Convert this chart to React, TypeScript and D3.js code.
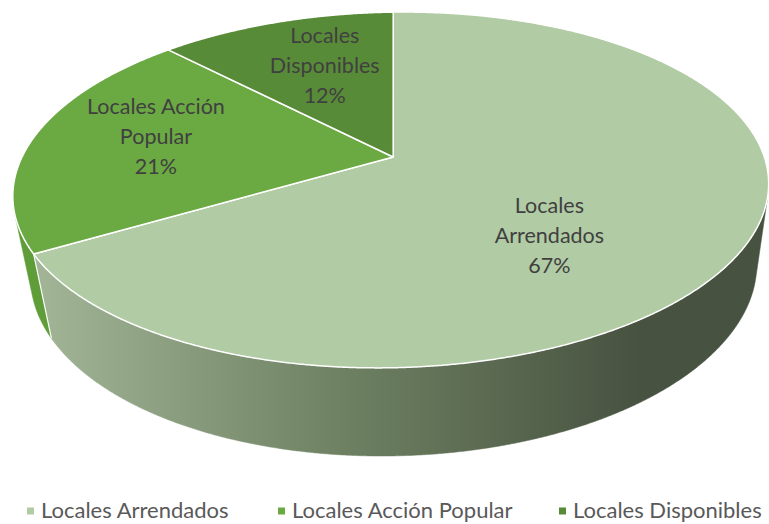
import React from "react";
import * as d3 from "d3";

const categories = ["Locales Arrendados", "Locales Acción Popular", "Locales Disponibles"];
const values = [67, 21, 12];
const labelNameLines = [["Locales", "Arrendados"], ["Locales Acción", "Popular"], ["Locales", "Disponibles"]];

const topColors = ["#b1cba4", "#6ba943", "#588b37"];
const sideColors = ["url(#sideGrad)", "#5e9d38", "#4a7a2e"];

const W = 769;
const H = 524;

// camera / projection parameters
const ALPHA = (33.4 * Math.PI) / 180;
const C = Math.cos(ALPHA);
const S = Math.sin(ALPHA);
const D = 4.505;
const FX = 1672;
const FY = 1406;
const PX = 462;
const PY = 157;
const OX = -0.1854;
const THICK = 0.3205;

function proj(phi: number, r: number, h: number): [number, number] {
  const x = r * Math.sin(phi) + OX;
  const z = -r * Math.cos(phi);
  const d = D - z * C - h * S;
  return [PX + (FX * x) / d, PY + (FY * (z * S - h * C)) / d];
}

function sideVisible(phi: number) {
  return -1 - OX * Math.sin(phi) - D * C * Math.cos(phi) > 0;
}

const PHI0 = (OX * C) / D;

export default function App() {
  const pie = d3
    .pie<number>()
    .sort(null)
    .value((d) => d)
    .startAngle(PHI0)
    .endAngle(PHI0 + 2 * Math.PI);
  const arcs = pie(values);
  const total = d3.sum(values);
  const pct = d3.format(".0%");
  const line = d3.line<[number, number]>();

  const step = Math.PI / 720;

  const sides: { d: string; fill: string }[] = [];
  const edges: [number, number][][] = [];
  arcs.forEach((a, i) => {
    const phis = d3.range(a.startAngle, a.endAngle, step).concat([a.endAngle]);
    let run: number[] = [];
    const flush = () => {
      if (run.length > 1) {
        const top = run.map((p) => proj(p, 1, 0));
        const bot = run.map((p) => proj(p, 1, -THICK)).reverse();
        sides.push({ d: line(top.concat(bot))! + "Z", fill: sideColors[i] });
      }
      run = [];
    };
    phis.forEach((p) => {
      if (sideVisible(p)) run.push(p);
      else flush();
    });
    flush();
    [a.startAngle].forEach((p) => {
      if (sideVisible(p)) edges.push([proj(p, 1, 0), proj(p, 1, -THICK)]);
    });
  });

  const tops = arcs.map((a, i) => {
    const phis = d3.range(a.startAngle, a.endAngle, step).concat([a.endAngle]);
    const pts = [proj(0, 0, 0) as [number, number]].concat(phis.map((p) => proj(p, 1, 0)));
    return { d: line(pts)! + "Z", fill: topColors[i] };
  });

  const labelR = [0.5, 0.62, 0.6];
  const labelDx = [-11, -13, 6];
  const labelDy = [35, -8, -6];
  const labels = arcs.map((a, i) => {
    const mid = (a.startAngle + a.endAngle) / 2;
    const [x, y] = proj(mid, labelR[i], 0);
    const lines = labelNameLines[i].concat([pct(values[i] / total)]);
    return { x: x + labelDx[i], y: y + labelDy[i], lines };
  });

  const legendX = [27, 278, 559];
  const legendY = 510.5;

  return (
    <svg width={W} height={H} style={{ position: "absolute", left: 0, top: 0, background: "#fff" }}>
      <defs>
        <linearGradient id="sideGrad" gradientUnits="userSpaceOnUse" x1={30} y1={0} x2={640} y2={0}>
          <stop offset="0" stopColor="#a3b698" />
          <stop offset="0.5" stopColor="#6f8263" />
          <stop offset="1" stopColor="#475240" />
        </linearGradient>
      </defs>
      {sides.map((s, i) => (
        <path key={"s" + i} d={s.d} fill={s.fill} stroke={s.fill} strokeWidth={0.5} />
      ))}
      {edges.map((e, i) => (
        <path key={"e" + i} d={line(e)!} stroke="#ffffff" strokeWidth={1.2} />
      ))}
      {tops.map((t, i) => (
        <path key={"t" + i} d={t.d} fill={t.fill} stroke="#ffffff" strokeWidth={1.5} strokeLinejoin="round" />
      ))}
      {labels.map((l, i) => (
        <text
          key={"l" + i}
          x={l.x}
          y={l.y}
          textAnchor="middle"
          fontFamily="Lato, 'Open Sans', sans-serif"
          fontSize={21.5}
          fill="#404040"
        >
          {l.lines.map((t, j) => (
            <tspan key={j} x={l.x} y={l.y + (j - 1) * 30} dy="0.35em">
              {t}
            </tspan>
          ))}
        </text>
      ))}
      {categories.map((c, i) => (
        <g key={"lg" + i}>
          <rect x={legendX[i]} y={legendY - 3} width={7} height={7} fill={topColors[i]} />
          <text
            x={legendX[i] + 14}
            y={legendY}
            dy="0.35em"
            fontFamily="Lato, 'Open Sans', sans-serif"
            fontSize={22}
            fill="#595959"
          >
            {c}
          </text>
        </g>
      ))}
    </svg>
  );
}
